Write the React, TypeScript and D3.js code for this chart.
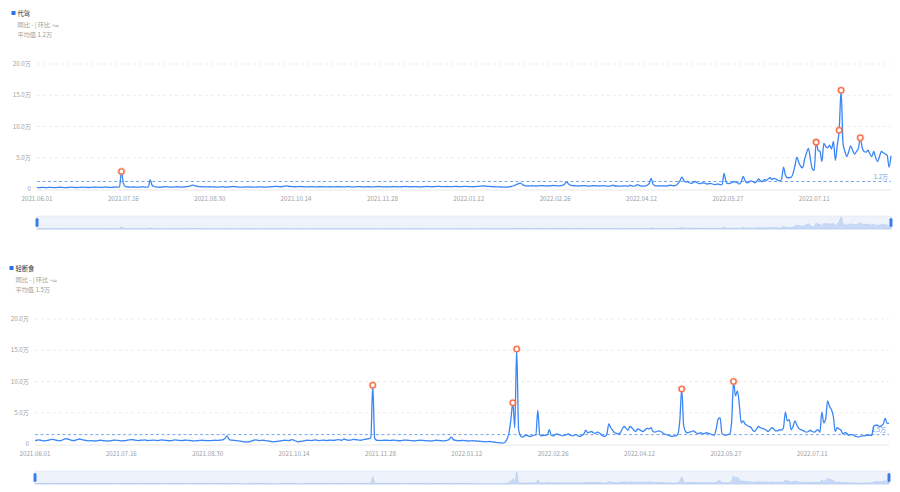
import React from "react";
import * as d3 from "d3";

const FONT = '"Noto Sans CJK SC", "Noto Sans", sans-serif';

const startDay = "2021.06.01";
const xTickLabels = [
  "2021.06.01", "2021.07.16", "2021.08.30", "2021.10.14", "2021.11.28",
  "2022.01.12", "2022.02.26", "2022.04.12", "2022.05.27", "2022.07.11",
];
const yTicks = [0, 5, 10, 15, 20];

// 代驾, daily values in 万, Jun-Dec 2021
const daijia2021 = [
  0.25, 0.22, 0.24, 0.26, 0.23, 0.21, 0.25, 0.27, 0.24, 0.22, 0.23, 0.26, 0.28, 0.25, 0.23, 0.22, 0.24, 0.27, 0.29, 0.26, 0.24, 0.23, 0.25, 0.28, 0.3, 0.27, 0.25, 0.24, 0.26, 0.29,
  0.28, 0.3, 0.27, 0.25, 0.26, 0.29, 0.31, 0.28, 0.27, 0.26, 0.3, 0.32, 0.29, 0.35, 2.8, 0.9, 0.4, 0.35, 0.32, 0.3, 0.33, 0.31, 0.3, 0.29, 0.32, 0.34, 0.31, 0.3, 0.33, 1.45, 0.6,
  0.4, 0.33, 0.3, 0.28, 0.32, 0.35, 0.38, 0.33, 0.3, 0.29, 0.31, 0.34, 0.36, 0.33, 0.3, 0.32, 0.35, 0.38, 0.42, 0.5, 0.62, 0.55, 0.45, 0.4, 0.38, 0.36, 0.35, 0.33, 0.34, 0.36, 0.35,
  0.33, 0.31, 0.3, 0.32, 0.34, 0.33, 0.31, 0.3, 0.33, 0.36, 0.4, 0.38, 0.34, 0.31, 0.3, 0.29, 0.31, 0.33, 0.35, 0.32, 0.3, 0.29, 0.3, 0.32, 0.34, 0.33, 0.31, 0.3, 0.32, 0.35,
  0.36, 0.38, 0.4, 0.42, 0.38, 0.36, 0.4, 0.45, 0.5, 0.44, 0.4, 0.38, 0.36, 0.35, 0.37, 0.4, 0.38, 0.36, 0.35, 0.34, 0.36, 0.38, 0.35, 0.33, 0.34, 0.36, 0.37, 0.35, 0.34, 0.33, 0.35,
  0.36, 0.34, 0.33, 0.35, 0.37, 0.36, 0.34, 0.33, 0.35, 0.38, 0.36, 0.34, 0.33, 0.35, 0.37, 0.39, 0.36, 0.34, 0.35, 0.37, 0.36, 0.34, 0.33, 0.35, 0.38, 0.4, 0.37, 0.35, 0.34, 0.36,
  0.35, 0.34, 0.36, 0.38, 0.37, 0.35, 0.34, 0.36, 0.38, 0.4, 0.38, 0.36, 0.35, 0.37, 0.39, 0.37, 0.35, 0.34, 0.36, 0.38, 0.41, 0.39, 0.37, 0.36, 0.38, 0.4, 0.42, 0.4, 0.38, 0.37, 0.39,
];
// 代驾, Jan 1 - Aug 20 2022
const daijia2022 = [
  0.4, 0.38, 0.37, 0.39, 0.41, 0.4, 0.38, 0.37, 0.39, 0.42, 0.4, 0.38, 0.37, 0.36, 0.38, 0.4, 0.42, 0.45, 0.5, 0.48, 0.45, 0.42, 0.4, 0.38, 0.36, 0.35, 0.34, 0.33, 0.32, 0.31, 0.3,
  0.32, 0.35, 0.4, 0.48, 0.6, 0.75, 0.85, 0.95, 0.7, 0.55, 0.5, 0.48, 0.5, 0.52, 0.5, 0.48, 0.5, 0.53, 0.55, 0.52, 0.5, 0.48, 0.5, 0.53, 0.56, 0.55, 0.52, 0.5,
  0.55, 0.6, 0.8, 1.1, 0.8, 0.6, 0.55, 0.52, 0.5, 0.48, 0.5, 0.52, 0.55, 0.5, 0.48, 0.46, 0.5, 0.55, 0.52, 0.5, 0.48, 0.5, 0.53, 0.5, 0.47, 0.45, 0.5, 0.6, 0.52, 0.48, 0.46,
  0.45, 0.48, 0.5, 0.47, 0.45, 0.6, 0.5, 0.45, 0.55, 0.7, 0.55, 0.48, 0.45, 0.5, 0.6, 0.9, 1.7, 0.8, 0.55, 0.5, 0.48, 0.5, 0.52, 0.5, 0.48, 0.55, 0.6, 0.55, 0.52, 0.6,
  0.9, 1.3, 1.9, 1.4, 1.1, 1.2, 1.0, 0.9, 1.1, 1.2, 1.0, 0.85, 0.9, 1.0, 0.95, 0.8, 0.85, 0.9, 0.8, 0.7, 0.75, 0.8, 0.7, 0.75, 2.5, 1.2, 0.85, 0.9, 1.0, 1.2, 1.1,
  1.0, 0.8, 1.2, 2.0, 1.3, 1.0, 1.1, 1.3, 1.2, 1.0, 1.2, 1.6, 1.3, 1.2, 1.5, 1.4, 1.6, 1.8, 1.5, 1.7, 1.6, 1.4, 1.3, 1.6, 3.5, 2.2, 1.8, 1.8, 1.9, 2.5,
  3.8, 5.1, 4.2, 3.6, 3.4, 4.8, 5.8, 6.5, 4.8, 3.2, 3.0, 7.5, 6.2, 6.0, 4.4, 7.3, 6.8, 6.6, 7.0, 6.4, 7.6, 4.6, 7.0, 9.4, 15.8, 7.3, 6.0, 5.2, 6.0, 6.9, 6.2,
  5.6, 6.0, 6.5, 8.2, 6.6, 6.0, 5.9, 6.2, 5.6, 5.2, 6.0, 5.0, 4.4, 5.2, 6.0, 5.8, 5.6, 5.4, 3.5, 5.3,
];
const daijiaPeaks = ["2021.07.15", "2022.07.12", "2022.07.24", "2022.07.25", "2022.08.04"];
const daijiaAvg = 1.2;

// 轻断食, Jun-Dec 2021
const qing2021 = [
  0.55, 0.6, 0.65, 0.6, 0.55, 0.5, 0.55, 0.6, 0.7, 0.75, 0.7, 0.6, 0.55, 0.5, 0.6, 0.75, 0.85, 0.8, 0.7, 0.6, 0.55, 0.6, 0.7, 0.8, 0.75, 0.65, 0.6, 0.55, 0.5, 0.55,
  0.5, 0.48, 0.5, 0.55, 0.6, 0.58, 0.52, 0.5, 0.48, 0.5, 0.55, 0.6, 0.62, 0.58, 0.55, 0.5, 0.52, 0.55, 0.6, 0.65, 0.7, 0.68, 0.62, 0.58, 0.55, 0.6, 0.62, 0.65, 0.6, 0.55, 0.58,
  0.6, 0.62, 0.58, 0.55, 0.6, 0.65, 0.62, 0.58, 0.55, 0.52, 0.55, 0.6, 0.65, 0.62, 0.58, 0.55, 0.56, 0.6, 0.62, 0.58, 0.55, 0.52, 0.5, 0.52, 0.55, 0.58, 0.6, 0.57, 0.55, 0.53, 0.55,
  0.55, 0.58, 0.6, 0.58, 0.6, 0.62, 0.7, 0.9, 1.3, 0.8, 0.62, 0.6, 0.58, 0.55, 0.5, 0.45, 0.4, 0.35, 0.32, 0.35, 0.4, 0.5, 0.6, 0.65, 0.6, 0.55, 0.58, 0.6, 0.55, 0.5,
  0.45, 0.4, 0.35, 0.38, 0.42, 0.45, 0.5, 0.55, 0.6, 0.58, 0.55, 0.6, 0.7, 0.6, 0.45, 0.35, 0.4, 0.45, 0.5, 0.55, 0.6, 0.58, 0.55, 0.6, 0.65, 0.6, 0.55, 0.58, 0.62, 0.6, 0.55,
  0.6, 0.62, 0.58, 0.6, 0.65, 0.7, 0.65, 0.6, 0.8, 0.7, 0.6, 0.62, 0.65, 0.75, 0.7, 0.65, 0.62, 0.6, 0.7, 0.75, 0.8, 0.85, 1.0, 9.4, 0.9, 0.6, 0.58, 0.55, 0.58, 0.6,
  0.6, 0.58, 0.55, 0.6, 0.62, 0.58, 0.55, 0.52, 0.55, 0.6, 0.62, 0.6, 0.58, 0.55, 0.5, 0.52, 0.55, 0.58, 0.6, 0.58, 0.55, 0.52, 0.5, 0.48, 0.5, 0.55, 0.6, 0.58, 0.55, 0.52, 0.5,
];
// 轻断食, Jan 1 - Aug 20 2022
const qing2022 = [
  0.55, 0.6, 0.8, 1.1, 0.7, 0.58, 0.55, 0.52, 0.55, 0.58, 0.55, 0.5, 0.48, 0.5, 0.52, 0.5, 0.48, 0.45, 0.42, 0.4, 0.38, 0.35, 0.38, 0.4, 0.35, 0.3, 0.25, 0.22, 0.2, 0.18, 0.15,
  0.3, 0.8, 1.8, 4.0, 6.6, 2.6, 15.2, 2.3, 1.3, 1.1, 1.3, 1.4, 1.3, 1.2, 1.3, 1.4, 1.5, 5.4, 1.5, 1.3, 1.4, 1.4, 1.5, 2.3, 1.4, 1.3, 1.5, 1.6,
  1.5, 1.4, 1.3, 1.4, 1.5, 1.6, 1.4, 1.3, 1.4, 1.5, 1.3, 1.2, 1.4, 1.6, 2.2, 1.8, 1.9, 2.0, 1.8, 1.7, 1.9, 1.8, 1.5, 1.3, 1.2, 1.6, 3.2, 2.6, 2.2, 1.8, 1.7,
  1.6, 1.8, 2.4, 2.8, 2.5, 2.2, 2.8, 2.6, 2.2, 2.0, 2.4, 2.3, 2.1, 2.0, 2.3, 2.5, 2.4, 2.6, 2.0, 1.9, 2.0, 2.1, 2.0, 1.8, 1.6, 1.5, 1.4, 1.3, 1.2, 1.3,
  1.3, 1.6, 3.8, 8.8, 3.0, 2.0, 1.8, 1.9, 2.0, 2.1, 1.9, 1.7, 1.7, 1.8, 1.6, 1.7, 1.8, 1.7, 1.6, 1.5, 1.4, 2.5, 4.0, 4.2, 1.6, 1.5, 1.4, 1.5, 1.6, 3.5, 10.0,
  7.7, 8.5, 6.3, 3.4, 3.7, 3.2, 3.0, 2.8, 2.7, 2.2, 2.0, 2.4, 2.8, 2.6, 2.5, 2.4, 2.2, 2.0, 2.3, 2.6, 2.4, 2.1, 2.1, 2.3, 2.2, 2.6, 5.1, 3.7, 3.9, 2.3,
  2.8, 3.7, 3.0, 2.5, 2.3, 2.2, 2.0, 1.9, 2.0, 2.2, 2.0, 1.9, 2.1, 2.3, 1.9, 5.1, 3.4, 4.0, 6.9, 6.0, 5.5, 4.4, 2.0, 2.6, 2.4, 2.2, 1.6, 1.8, 1.7, 1.4, 1.5,
  1.5, 1.3, 1.2, 1.1, 1.2, 1.3, 1.3, 1.4, 1.4, 1.4, 1.4, 2.8, 3.0, 3.0, 2.8, 2.9, 3.2, 4.1, 3.3, 3.3,
];
const qingPeaks = ["2021.11.24", "2022.02.05", "2022.02.07", "2022.05.04", "2022.05.31"];
const qingAvg = 1.5;

const parseDay = d3.utcParse("%Y.%m.%d");
const fmtY = (v: number) => (v === 0 ? "0" : `${v.toFixed(1)}万`);

interface PanelProps {
  name: string;
  values: number[];
  peaks: string[];
  avg: number;
  dx: number;
  dy: number;
}

const Panel: React.FC<PanelProps> = ({ name, values, peaks, avg, dx, dy }) => {
  const start = parseDay(startDay)!;
  const dates = values.map((_, i) => d3.utcDay.offset(start, i));
  const left = 37 + dx;
  const right = 891 + dx;

  const x = d3.scaleUtc().domain([dates[0], dates[dates.length - 1]]).range([left, right]);
  const y = d3.scaleLinear().domain([0, 20]).range([189 + dy, 64 + dy]);

  const line = d3
    .line<number>()
    .x((_, i) => x(dates[i]))
    .y((d) => y(d))
    .curve(d3.curveMonotoneX);

  // slider (data zoom) mini chart
  const sTop = 216 + dy;
  const sBot = 229 + dy;
  const sy = d3.scaleLinear().domain([0, d3.max(values)!]).range([sBot, sTop + 1]);
  const miniArea = d3
    .area<number>()
    .x((_, i) => x(dates[i]))
    .y0(sBot)
    .y1((d) => sy(d))
    .curve(d3.curveMonotoneX);

  const dayIndex = (s: string) => d3.utcDay.count(start, parseDay(s)!);

  return (
    <g fontFamily={FONT}>
      {/* legend */}
      <rect x={11.5 + dx} y={11 + dy} width={4} height={4} fill="#2f6fe6" />
      <text x={17.5 + dx} y={15.5 + dy} fontSize={6.3} fill="#333">{name}</text>
      <text x={17.5 + dx} y={26.5 + dy} fontSize={6.2} fill="#9a9a9a">
        同比 - | 环比 <tspan fontSize={4.6}>+∞</tspan>
      </text>
      <text x={17.5 + dx} y={37 + dy} fontSize={6.2} fill="#9a9a9a">
        平均值 {avg.toFixed(1)}万
      </text>

      {/* grid + y axis */}
      {yTicks.map((t) => (
        <g key={t}>
          {t === 0 ? (
            <line x1={left} x2={right} y1={y(t) + 1} y2={y(t) + 1} stroke="#e2e2e2" strokeWidth={0.8} />
          ) : (
            <line x1={left} x2={right} y1={y(t)} y2={y(t)} stroke="#e6e6e6" strokeWidth={0.8} strokeDasharray="3 3" />
          )}
          <text x={left - 6} y={y(t) + 2} fontSize={6.2} fill="#a0a0a0" textAnchor="end">
            {fmtY(t)}
          </text>
        </g>
      ))}

      {/* x axis labels */}
      {xTickLabels.map((s) => (
        <text key={s} x={x(parseDay(s)!)} y={201 + dy} fontSize={6.2} fill="#a0a0a0" textAnchor="middle">
          {s}
        </text>
      ))}

      {/* average line */}
      <line x1={left} x2={right} y1={y(avg)} y2={y(avg)} stroke="#6b9ce9" strokeWidth={0.9} strokeDasharray="3 2.5" />
      <text x={right - 3} y={y(avg) - 3} fontSize={6} fill="#6b9ce9" textAnchor="end">
        {avg.toFixed(1)}万
      </text>

      {/* series line */}
      <path d={line(values) ?? ""} fill="none" stroke="#3a86f5" strokeWidth={1.3} strokeLinejoin="round" />

      {/* peak markers */}
      {peaks.map((p) => {
        const i = dayIndex(p);
        return (
          <g key={p}>
            <circle cx={x(dates[i])} cy={y(values[i])} r={4.2} fill="#f7845f" opacity={0.3} />
            <circle cx={x(dates[i])} cy={y(values[i])} r={2.6} fill="#fff" stroke="#f4714a" strokeWidth={1.4} />
          </g>
        );
      })}

      {/* slider */}
      <rect x={left} y={sTop} width={right - left} height={sBot - sTop} fill="#eef3fb" stroke="#dde6f3" strokeWidth={0.6} />
      <path d={miniArea(values) ?? ""} fill="#c7d9f5" stroke="#a9c5ef" strokeWidth={0.5} />
      <rect x={left - 1.5} y={sTop + 2} width={3} height={sBot - sTop - 4} rx={1.5} fill="#3b7ded" />
      <rect x={right - 1.5} y={sTop + 2} width={3} height={sBot - sTop - 4} rx={1.5} fill="#3b7ded" />
    </g>
  );
};

export default function App() {
  return (
    <svg width={900} height={492} style={{ position: "absolute", left: 0, top: 0, background: "#fff" }}>
      <Panel name="代驾" values={[...daijia2021, ...daijia2022]} peaks={daijiaPeaks} avg={daijiaAvg} dx={0} dy={0} />
      <Panel name="轻断食" values={[...qing2021, ...qing2022]} peaks={qingPeaks} avg={qingAvg} dx={-2} dy={255} />
    </svg>
  );
}
